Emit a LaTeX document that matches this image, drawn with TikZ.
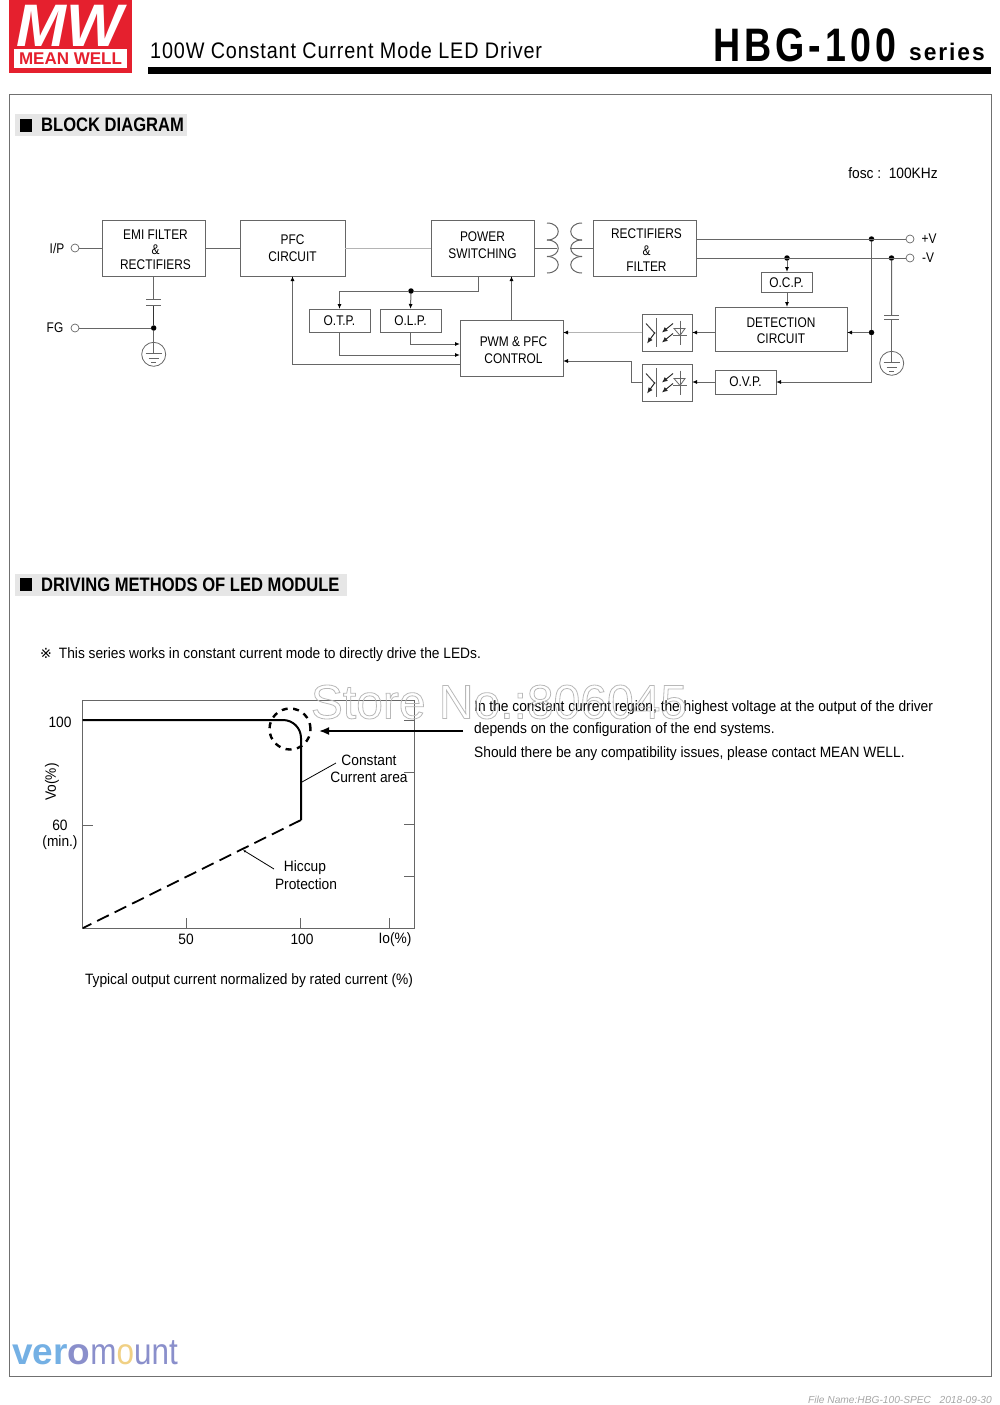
\documentclass[tikz,border=0pt]{standalone}
\usepackage{fontspec}
\setmainfont[FakeStretch=0.85]{Liberation Sans}
\newfontfamily\plainfont{Liberation Sans}
\newfontfamily\bodyfont[FakeStretch=0.917]{Liberation Sans}
\newfontfamily\symfont{DejaVu Sans}
\newfontfamily\titlefont[FakeStretch=0.88,LetterSpace=3.8]{Liberation Sans}
\newfontfamily\seriesfont[FakeStretch=0.8,LetterSpace=8.5]{Liberation Sans}
\newfontfamily\smallseriesfont[FakeStretch=0.95,LetterSpace=8]{Liberation Sans}
\usepackage{xcolor}
\usetikzlibrary{arrows.meta,positioning,calc}
\definecolor{logored}{HTML}{E5202E}
\definecolor{wire}{HTML}{666666}
\definecolor{wirelight}{HTML}{B4B4B4}
\definecolor{headgray}{HTML}{E6E6E6}
\definecolor{framegray}{HTML}{707070}
\definecolor{veroa}{HTML}{74B0E4}
\definecolor{verob}{HTML}{8A8FCB}
\definecolor{veroc}{HTML}{F0D084}
\newcommand\topfix[1]{\rule{0pt}{#1pt}}
\newcommand\botfix[1]{\rule[-#1pt]{0pt}{0pt}}
\newcommand\sh{\hspace*{4pt}}
\tikzset{
  optosym/.pic={
    \draw[wire,line width=1pt] (-11,-14.5) -- (-11,14.5);
    \draw[black!75,line width=1pt] (-21,-9) -- (-12,1);
    \draw[black!85,line width=1pt,-{Latex[length=6pt,width=5pt]}] (-12,0) -- (-20,11);
    \draw[black!85,line width=0.9pt,-{Latex[length=5.5pt,width=5pt]}] (6,-9) -- (-5,0);
    \draw[black!85,line width=0.9pt,-{Latex[length=5.5pt,width=5pt]}] (6,1) -- (-5,10);
    \draw[wire,line width=0.8pt] (13,-12) -- (13,12);
    \draw[wire,line width=0.8pt] (7,-4) -- (18,-4) -- (13,3) -- cycle;
    \draw[wire,line width=0.8pt] (6,3) -- (20,3);
  },
  earthsym/.pic={
    \draw[wire,line width=0.8pt] (0,0) circle (12);
    \draw[wire,line width=0.8pt] (-8,-1) -- (8,-1);
    \draw[wire,line width=0.8pt] (-5,4) -- (5,4);
    \draw[wire,line width=0.8pt] (-2.5,8) -- (2.5,8);
  }
}
\begin{document}
\begin{tikzpicture}[
  x=1pt,y=-1pt,
  blk/.style={draw=wire,line width=1pt,fill=white,minimum width=103pt,minimum height=56pt,
              inner sep=0pt,outer sep=0pt,align=center,font=\fontsize{14}{16.5}\selectfont},
  tag/.style={blk,minimum width=61pt,minimum height=23pt},
  optobox/.style={draw=wire,line width=1pt,fill=white,minimum width=50pt,minimum height=37pt,inner sep=0pt,outer sep=0pt},
  term/.style={circle,draw=wire,fill=white,line width=0.7pt,minimum size=8pt,inner sep=0pt,outer sep=0pt},
  junc/.style={circle,fill=black,minimum size=5.5pt,inner sep=0pt,outer sep=0pt},
  lbl/.style={inner sep=0pt,align=center,font=\fontsize{14}{17}\selectfont},
  txt/.style={inner sep=0pt,align=center,font=\bodyfont\fontsize{15}{17}\selectfont},
  txtw/.style={txt,anchor=west,align=left},
  sect/.style={anchor=west,inner sep=0pt,font=\fontsize{19.5}{22}\selectfont\bfseries},
  arr/.style={wire,line width=1pt,-{Latex[length=5pt,width=4pt,black]}},
  wr/.style={wire,line width=1pt},
  wrl/.style={wirelight,line width=0.8pt},
  thk/.style={black,line width=2pt}
]
\useasboundingbox (0,0) rectangle (1000,1405);

\node[fill=logored,minimum width=123pt,minimum height=73pt,inner sep=0pt] (logo) at (70.5,36.5) {};
\node[fill=white,minimum width=113pt,minimum height=19pt,inner sep=0pt,text=logored,font=\plainfont\fontsize{17}{18}\selectfont\bfseries] (logoname) at (70.5,58.5) {MEAN WELL};
\node[inner sep=0pt,text=white,font=\plainfont\fontsize{60}{60}\selectfont\bfseries\itshape] (logomw) at (70,25.5) {MW};
\node[anchor=west,inner sep=0pt,font=\titlefont\fontsize{22.5}{24}\selectfont] (title) at (150,50) {100W Constant Current Mode LED Driver};
\node[fill=black,minimum width=843pt,minimum height=7pt,inner sep=0pt] (titlebar) at (569.5,70.5) {};
\node[anchor=west,inner sep=0pt,font=\seriesfont\fontsize{47}{48}\selectfont\bfseries] (model) at (713,45) {HBG-100};
\node[anchor=west,inner sep=0pt,font=\smallseriesfont\fontsize{24}{26}\selectfont\bfseries] (series) at (909,52) {series};

\node[draw=framegray,line width=1pt,minimum width=982pt,minimum height=1282pt,inner sep=0pt] (page) at (500,735) {};

\node[fill=headgray,minimum width=172pt,minimum height=22pt,inner sep=0pt] (heada) at (101,125) {};
\node[fill=black,minimum width=12pt,minimum height=13pt,inner sep=0pt] (squarea) at (26,125.5) {};
\node[sect] (secta) at (41,125) {BLOCK DIAGRAM};
\node[txt] (fosc) at (893,173) {fosc :\ \ 100KHz};

\node[blk] (emi) at (153.5,248) {\sh\topfix{14}EMI FILTER\\[-1.5pt]\sh\&\\[-1.5pt]\sh RECTIFIERS};
\node[blk,right=35pt of emi,minimum width=105pt] (pfc) {PFC\\CIRCUIT};
\node[blk,right=86pt of pfc] (power) {POWER\\SWITCHING\botfix{6}};
\node[blk,right=59pt of power] (rect) {\sh\topfix{14}RECTIFIERS\\\sh\&\\\sh FILTER};
\node[tag] (otp) at (339.5,320.5) {O.T.P.};
\node[tag,right=10pt of otp] (olp) {O.L.P.};
\node[blk] (pwm) at (511.5,348) {\sh\topfix{14}PWM \& PFC\\\sh CONTROL};
\node[optobox] (optoa) at (667,332.5) {};
\node[optobox] (optob) at (667,382.5) {};
\node[blk,minimum width=132pt,minimum height=44pt] (det) at (781,329) {\topfix{13}DETECTION\\CIRCUIT};
\node[tag,minimum height=24pt] (ovp) at (745.5,382) {O.V.P.};
\node[tag,minimum width=51pt,minimum height=20pt] (ocp) at (786.5,282) {\topfix{12}O.C.P.};

\pic at (optoa) {optosym};
\pic at (optob) {optosym};

\node[term] (ip) at (75,248) {};
\node[term] (fg) at (75,328) {};
\node[term] (vplus) at (910,239) {};
\node[term] (vminus) at (910,258) {};
\node[lbl] (iplbl) at (57,248) {I/P};
\node[lbl] (fglbl) at (55,328) {FG};
\node[lbl] (vplusl) at (929,239) {+V};
\node[lbl] (vminusl) at (928,258) {-V};

\node[junc] (jfg) at (153.7,328) {};
\node[junc] (jolp) at (411,291) {};
\node[junc] (jplus) at (871.5,239) {};
\node[junc] (jdet) at (871.5,332.5) {};
\node[junc] (jocp) at (787,258) {};
\node[junc] (jminus) at (891.5,258) {};
\coordinate (gndl) at (153.7,354.3);
\coordinate (gndr) at (891.7,363.3);
\coordinate (capl) at (153.7,302);
\coordinate (capr) at (891.7,317);
\coordinate (coill) at (557,248);
\coordinate (coilr) at (570,248);

\draw[wr] (ip) -- (emi.west |- ip);
\draw[wr] (emi.east |- pfc.west) -- (pfc.west);
\draw[wrl] (pfc) -- (power);
\draw[wr] (power.east) -- (coill);
\draw[wr] (coilr) -- (rect.west);
\draw[wr] (fg) -- (jfg);
\draw[wr] (emi.south -| capl) -- ([yshift=3pt]capl);
\draw[black!80,line width=1pt] ([yshift=-3pt]capl) -- (jfg);
\draw[wr] (jfg) -- (gndl);
\draw[wr] ([xshift=-7.5pt,yshift=3pt]capl) -- ([xshift=7.5pt,yshift=3pt]capl);
\draw[wr] ([xshift=-7.5pt,yshift=-3pt]capl) -- ([xshift=7.5pt,yshift=-3pt]capl);
\pic at (gndl) {earthsym};

\foreach \ya/\yb in {223/240,240/256.5,256.5/273}{
  \draw[wr] (547,\ya) .. controls (562,\ya) and (562,\yb) .. (547,\yb);
  \draw[wr] (582,\ya) .. controls (567,\ya) and (567,\yb) .. (582,\yb);
}

\draw[arr] ([xshift=-4.5pt]power.south) |- (jolp) -| (otp.north);
\draw[arr] (jolp) -- (olp.north);
\draw[arr] (pwm.north) -- (pwm.north |- power.south);
\draw[arr] (otp.south) |- ([yshift=-7pt]pwm.west);
\draw[arr] (olp.south) |- ([yshift=4pt]pwm.west);
\draw[arr] ([yshift=-16pt]pwm.west) -| (pfc.south);
\draw[wrl,-{Latex[length=5pt,width=4pt,black]}] (optoa.west) -- (pwm.east |- optoa.west);
\draw[arr] (optob.west) -- ++(-11,0) |- ([yshift=-13pt]pwm.east);
\draw[arr] (det.west |- optoa) -- (optoa.east);
\draw[arr] (ovp.west) -- (optob.east |- ovp);
\draw[arr] (jdet) -- (det.east |- jdet);
\draw[wr] (jplus) -- (jdet);
\draw[arr] (jdet) |- (ovp.east);
\draw[wr] (rect.east |- vplus) -- (vplus);
\draw[wr] (rect.east |- vminus) -- (vminus);
\draw[arr] (jocp) -- (jocp |- ocp.north);
\draw[arr] (jocp |- ocp.south) -- (jocp |- det.north);
\draw[wr] (jminus) -- ([yshift=2pt]capr);
\draw[wr] ([yshift=-2pt]capr) -- (gndr);
\draw[wr] ([xshift=-7.5pt,yshift=2pt]capr) -- ([xshift=7.5pt,yshift=2pt]capr);
\draw[wr] ([xshift=-7.5pt,yshift=-2pt]capr) -- ([xshift=7.5pt,yshift=-2pt]capr);
\pic at (gndr) {earthsym};

\node[fill=headgray,minimum width=332pt,minimum height=22pt,inner sep=0pt] (headb) at (181,585) {};
\node[fill=black,minimum width=12pt,minimum height=13pt,inner sep=0pt] (squareb) at (26,584.5) {};
\node[sect] (sectb) at (41,584.5) {DRIVING METHODS OF LED MODULE};
\node[txtw] (note) at (40,654.5) {{\symfont\fontsize{14}{15}\selectfont ※}\hspace{7pt}This series works in constant current mode to directly drive the LEDs.};

\node[draw=wire,line width=1pt,minimum width=332pt,minimum height=228pt,inner sep=0pt,outer sep=0pt] (plot) at (248.3,814) {};
\foreach \yt in {720,772.7,824.7,876.3}{
  \draw[wr] (404,\yt) -- (plot.east |- 0,\yt);
}
\draw[wr] (plot.west |- 0,825) -- (93,825);
\foreach \xt in {186.3,300.7,389.7}{
  \draw[wr] (\xt,918) -- (\xt,928);
}
\node[txt] (ya) at (60,722) {100};
\node[txt] (yb) at (60,825) {60};
\node[txt] (yc) at (60,843) {(min.)};
\node[txt,rotate=90] (ylab) at (52,782) {Vo(\%)};
\node[txt] (xa) at (186,939) {50};
\node[txt] (xb) at (302,939) {100};
\node[txt] (xlab) at (395,940) {Io(\%)};
\node[txt] (xcap) at (249,981) {Typical output current normalized by rated current (\%)};
\coordinate (ccstart) at (82.5,720);
\coordinate (cckink) at (301,720);
\coordinate (ccend) at (301,820);
\coordinate (hicend) at (83,928);
\draw[thk,rounded corners=18pt] (ccstart) -- (cckink) -- (ccend);
\draw[black,line width=1.8pt,dash pattern=on 13pt off 6.5pt] (ccend) -- (hicend);
\node[circle,draw=black,line width=2.4pt,dash pattern=on 6pt off 5.5pt,minimum size=41pt,inner sep=0pt] (knee) at (290,729) {};
\node[txt] (cca) at (369,760) {Constant};
\node[txt] (ccb) at (369,777) {Current area};
\node[txt] (hica) at (305,868) {Hiccup};
\node[txt] (hicb) at (306,884) {Protection};
\coordinate (ccleader) at (336,763);
\coordinate (ccpoint) at (302,782);
\coordinate (hicleader) at (274,869);
\coordinate (hicpoint) at (243,850);
\draw[black,line width=0.8pt] (ccleader) -- (ccpoint);
\draw[black,line width=0.8pt,-{Latex[length=3pt,width=2.5pt]}] (hicleader) -- (hicpoint);
\coordinate (longarr) at (463,731);
\coordinate (longtip) at (319,731);
\draw[black,line width=1.8pt,-{Latex[length=10pt,width=8pt]}] (longarr) -- (longtip);
\node[txtw] (ra) at (474,707.5) {In the constant current region, the highest voltage at the output of the driver};
\node[txtw] (rb) at (474,729.5) {depends on the configuration of the end systems.};
\node[txtw] (rc) at (474,753.5) {Should there be any compatibility issues, please contact MEAN WELL.};

\node[inner sep=0pt,font=\plainfont\fontsize{48}{50}\selectfont] (store) at (499,702) {\special{pdf:code q 1 Tr 0.8 w 0.72 0.72 0.72 RG}Store No.:806045\special{pdf:code Q}};

\node[anchor=west,inner sep=0pt,font=\fontsize{37}{38}\selectfont] (vero) at (12,1353) {\textcolor{veroa}{\plainfont\bfseries ver}\textcolor{verob}{\plainfont\bfseries o}\textcolor{verob}{m}\textcolor{veroc}{o}\textcolor{verob}{unt}};
\node[anchor=east,inner sep=0pt,text=black!35,font=\plainfont\fontsize{10.2}{12}\selectfont\itshape] (filename) at (992,1400) {File Name:HBG-100-SPEC\ \ \ 2018-09-30};
\end{tikzpicture}
\end{document}
